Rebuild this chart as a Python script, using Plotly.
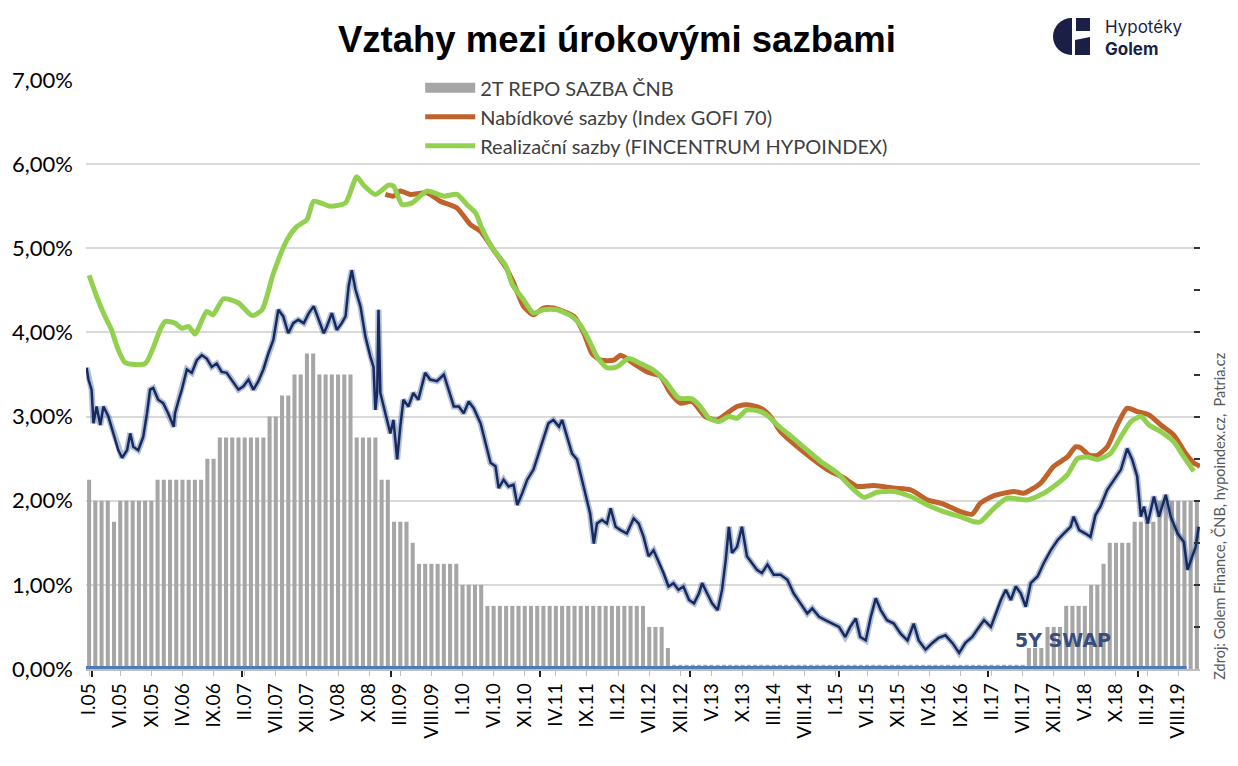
import plotly.graph_objects as go

# 2T repo sazba CNB, mesicne od I.2005 (index mesice 0 = I.05)
repo_sazba = [
    2.25, 2.0, 2.0, 2.0, 1.75, 2.0, 2.0, 2.0, 2.0, 2.0, 2.0, 2.25,
    2.25, 2.25, 2.25, 2.25, 2.25, 2.25, 2.25, 2.5, 2.5, 2.75, 2.75, 2.75,
    2.75, 2.75, 2.75, 2.75, 2.75, 3.0, 3.0, 3.25, 3.25, 3.5, 3.5, 3.75,
    3.75, 3.5, 3.5, 3.5, 3.5, 3.5, 3.5, 2.75, 2.75, 2.75, 2.75, 2.25,
    2.25, 1.75, 1.75, 1.75, 1.5, 1.25, 1.25, 1.25, 1.25, 1.25, 1.25, 1.25,
    1.0, 1.0, 1.0, 1.0, 0.75, 0.75, 0.75, 0.75, 0.75, 0.75, 0.75, 0.75,
    0.75, 0.75, 0.75, 0.75, 0.75, 0.75, 0.75, 0.75, 0.75, 0.75, 0.75, 0.75,
    0.75, 0.75, 0.75, 0.75, 0.75, 0.75, 0.5, 0.5, 0.5, 0.25, 0.05, 0.05,
    0.05, 0.05, 0.05, 0.05, 0.05, 0.05, 0.05, 0.05, 0.05, 0.05, 0.05, 0.05,
    0.05, 0.05, 0.05, 0.05, 0.05, 0.05, 0.05, 0.05, 0.05, 0.05, 0.05, 0.05,
    0.05, 0.05, 0.05, 0.05, 0.05, 0.05, 0.05, 0.05, 0.05, 0.05, 0.05, 0.05,
    0.05, 0.05, 0.05, 0.05, 0.05, 0.05, 0.05, 0.05, 0.05, 0.05, 0.05, 0.05,
    0.05, 0.05, 0.05, 0.05, 0.05, 0.05, 0.05, 0.25, 0.25, 0.25, 0.5, 0.5,
    0.5, 0.75, 0.75, 0.75, 0.75, 1.0, 1.0, 1.25, 1.5, 1.5, 1.5, 1.5,
    1.75, 1.75, 1.75, 1.75, 2.0, 2.0, 2.0, 2.0, 2.0, 2.0, 2.0,
]
mesice = list(range(len(repo_sazba)))

# Nabidkove sazby (Index GOFI 70)
gofi_mesic = [
    47.6, 48.9, 50.0, 51.6, 54.3, 56.4, 59.1, 61.3, 62.9, 65.0, 66.9, 68.2,
    69.8, 71.4, 73.0, 74.6, 77.9, 79.5, 80.8, 82.2, 84.3, 85.4, 87.5, 89.7,
    91.8, 93.4, 95.0, 96.9, 99.0, 100.9, 102.5, 104.1, 105.7, 107.9, 109.5,
    111.1, 114.8, 118.6, 121.3, 123.4, 126.1, 129.3, 132.0, 134.7, 137.3,
    140.0, 141.9, 143.2, 145.4, 148.6, 150.2, 152.9, 155.0, 157.2, 158.5,
    159.3, 160.7, 162.0, 163.6, 165.2, 166.8, 168.4, 170.3, 172.2, 174.3,
    176.2, 177.5, 178.5,
]
gofi = [
    5.64, 5.62, 5.68, 5.64, 5.66, 5.56, 5.48, 5.28, 5.20, 4.98, 4.78, 4.59,
    4.31, 4.21, 4.29, 4.29, 4.19, 3.99, 3.75, 3.67, 3.67, 3.73, 3.63, 3.53,
    3.48, 3.28, 3.16, 3.18, 3.00, 2.96, 3.04, 3.12, 3.14, 3.10, 3.00,
    2.82, 2.58, 2.37, 2.27, 2.17, 2.18, 2.15, 2.13, 2.01, 1.96,
    1.87, 1.84, 1.97, 2.06, 2.11, 2.09, 2.21, 2.41, 2.52, 2.64,
    2.63, 2.54, 2.54, 2.64, 2.90, 3.10, 3.06, 3.02, 2.90, 2.78,
    2.56, 2.45, 2.41,
]

# Realizacni sazby (FINCENTRUM HYPOINDEX)
hypoindex_mesic = [
    0.0, 1.2, 2.3, 3.6, 4.5, 5.8, 9.0, 11.4, 12.2, 13.8, 14.9, 16.0, 17.0,
    18.9, 19.9, 21.6, 24.0, 26.2, 27.8, 29.6, 31.8, 33.4, 35.0, 36.1, 38.7,
    41.2, 43.0, 44.1, 46.0, 48.1, 48.9, 50.3, 51.9, 54.3, 57.0, 59.1, 60.7,
    62.1, 63.1, 65.0, 66.9, 68.0, 69.8, 71.4, 73.0, 75.2, 77.6, 78.9, 80.3,
    81.6, 83.2, 84.8, 86.7, 88.6, 90.7, 92.6, 94.7, 96.9, 98.2, 99.6, 101.2,
    102.8, 104.1, 105.7, 107.9, 109.2, 110.6, 113.2, 115.4, 117.5, 120.2,
    122.3, 124.5, 126.6, 129.3, 132.0, 134.7, 137.3, 140.0, 142.2, 143.2,
    145.4, 147.5, 150.8, 152.9, 155.0, 157.2, 158.8, 160.4, 162.0, 164.1,
    165.8, 167.4, 169.0, 170.3, 172.2, 174.3, 175.9, 177.5,
]
hypoindex = [
    4.68, 4.43, 4.23, 4.03, 3.83, 3.64, 3.63, 4.03, 4.13, 4.11, 4.05, 4.07, 3.98,
    4.25, 4.21, 4.40, 4.35, 4.20, 4.27, 4.70, 5.10, 5.26, 5.34, 5.56, 5.50,
    5.54, 5.85, 5.75, 5.64, 5.75, 5.74, 5.52, 5.54, 5.68, 5.62, 5.64, 5.52,
    5.42, 5.24, 4.98, 4.80, 4.57, 4.39, 4.23, 4.27, 4.27, 4.19, 4.09, 3.91,
    3.71, 3.58, 3.59, 3.69, 3.63, 3.55, 3.42, 3.22, 3.21, 3.12, 2.98, 2.94,
    3.00, 2.98, 3.08, 3.06, 3.00, 2.90, 2.74, 2.60, 2.47, 2.33,
    2.17, 2.04, 2.10, 2.11, 2.05, 1.95, 1.87, 1.81, 1.75, 1.75,
    1.91, 2.03, 2.01, 2.07, 2.17, 2.31, 2.50, 2.52, 2.49, 2.56,
    2.76, 2.94, 3.00, 2.90, 2.82, 2.70, 2.52, 2.35,
]

# 5Y SWAP
swap_mesic = [
    -0.4, -0.1, 0.4, 0.7, 1.2, 1.8, 2.3, 3.1, 3.9, 4.7, 5.3, 6.1, 6.6, 7.1,
    7.9, 8.7, 9.3, 9.8, 10.3, 11.1, 11.9, 12.7, 13.6, 13.8, 14.4, 14.9, 15.7,
    16.5, 17.3, 18.1, 18.9, 19.7, 20.5, 21.3, 22.1, 22.9, 24.0, 24.8, 25.6,
    26.4, 27.2, 28.0, 28.8, 29.6, 30.4, 31.2, 32.0, 32.8, 33.6, 34.5, 35.3,
    36.1, 36.9, 37.7, 38.2, 39.0, 39.8, 40.6, 41.2, 41.7, 42.2, 42.8, 43.6,
    44.4, 45.2, 45.7, 46.0, 46.3, 46.5, 46.8, 47.6, 48.4, 48.9, 49.5, 50.0,
    50.5, 51.3, 52.1, 52.9, 54.0, 54.8, 55.9, 57.0, 57.8, 58.6, 59.4, 60.2,
    61.0, 61.8, 62.9, 63.9, 64.5, 65.3, 65.8, 66.6, 67.4, 68.2, 68.8, 69.6,
    70.4, 71.4, 72.2, 73.0, 73.8, 74.6, 75.5, 76.0, 76.8, 77.6, 78.4, 79.2,
    79.7, 80.5, 81.1, 81.6, 82.4, 83.2, 83.8, 84.6, 85.4, 86.4, 87.5, 88.3,
    89.1, 89.9, 90.7, 91.5, 92.3, 93.1, 93.9, 94.7, 95.5, 96.4, 97.2, 98.0,
    98.5, 99.3, 100.1, 101.0, 101.7, 102.3, 102.8, 103.3, 104.1, 104.9,
    105.7, 106.5, 107.3, 108.1, 109.0, 110.0, 111.1, 112.2, 113.2, 114.3,
    115.4, 116.2, 117.3, 118.3, 119.4, 120.5, 121.5, 122.3, 123.2, 123.9,
    124.8, 125.6, 126.4, 127.2, 128.2, 129.3, 130.4, 131.5, 132.5, 133.3,
    134.4, 135.5, 136.5, 137.6, 138.7, 139.8, 140.8, 141.9, 143.0, 143.8,
    144.9, 145.7, 146.5, 147.3, 148.1, 148.9, 149.7, 150.5, 151.3, 152.4,
    153.4, 154.5, 155.6, 156.6, 157.7, 158.2, 159.1, 160.1, 160.9, 161.7,
    162.5, 163.6, 164.7, 165.8, 166.8, 167.6, 168.4, 169.0, 169.5, 170.1,
    171.1, 171.9, 173.0, 173.8, 174.9, 175.9, 176.5, 177.3, 177.8, 178.3,
]
swap = [
    3.58, 3.44, 3.32, 2.92, 3.12, 2.90, 3.12, 3.00, 2.80, 2.60, 2.51, 2.60, 2.80, 2.64,
    2.60, 2.76, 3.04, 3.32, 3.34, 3.20, 3.16, 3.04, 2.88, 3.04, 3.20, 3.32, 3.56,
    3.52, 3.67, 3.73, 3.69, 3.59, 3.63, 3.53, 3.52, 3.44, 3.32, 3.36, 3.44,
    3.32, 3.42, 3.56, 3.75, 3.91, 4.27, 4.19, 3.99, 4.11, 4.15, 4.11, 4.23,
    4.31, 4.15, 3.99, 4.07, 4.23, 4.03, 4.11, 4.19, 4.55, 4.74, 4.51, 4.31,
    3.95, 3.71, 3.59, 3.08, 3.30, 4.27, 3.28, 3.04, 2.80, 2.96, 2.49, 2.88,
    3.20, 3.12, 3.28, 3.20, 3.52, 3.44, 3.42, 3.50, 3.32, 3.12, 3.12, 3.04,
    3.18, 3.10, 2.92, 2.64, 2.45, 2.41, 2.15, 2.25, 2.17, 2.19, 1.95, 2.09,
    2.25, 2.37, 2.56, 2.72, 2.92, 2.96, 2.88, 2.96, 2.76, 2.56, 2.49, 2.25,
    2.09, 1.85, 1.49, 1.73, 1.77, 1.73, 1.91, 1.69, 1.65, 1.61, 1.79, 1.73,
    1.57, 1.34, 1.41, 1.28, 1.14, 0.98, 1.02, 0.94, 0.98, 0.82, 0.78, 0.90,
    1.02, 0.90, 0.78, 0.70, 0.94, 1.30, 1.69, 1.38, 1.45, 1.69,
    1.34, 1.26, 1.18, 1.14, 1.24, 1.12, 1.12, 1.06, 0.90, 0.78,
    0.66, 0.72, 0.62, 0.58, 0.54, 0.50, 0.38, 0.50, 0.60, 0.38,
    0.34, 0.62, 0.84, 0.70, 0.58, 0.54, 0.42, 0.34, 0.54, 0.34,
    0.23, 0.31, 0.37, 0.40, 0.31, 0.19, 0.31, 0.38, 0.50, 0.58,
    0.50, 0.66, 0.82, 0.94, 0.82, 0.98, 0.90, 0.74, 1.02, 1.10,
    1.26, 1.41, 1.53, 1.61, 1.69, 1.81, 1.65, 1.61, 1.57, 1.83,
    1.93, 2.13, 2.25, 2.37, 2.62, 2.49, 2.29, 1.81, 1.93, 1.73,
    2.05, 1.81, 2.07, 1.81, 1.61, 1.51, 1.18, 1.34, 1.45, 1.69,
]

popisky = [
    'I.05', 'VI.05', 'XI.05', 'IV.06', 'IX.06', 'II.07', 'VII.07', 'XII.07',
    'V.08', 'X.08', 'III.09', 'VIII.09', 'I.10', 'VI.10', 'XI.10', 'IV.11',
    'IX.11', 'II.12', 'VII.12', 'XII.12', 'V.13', 'X.13', 'III.14', 'VIII.14',
    'I.15', 'VI.15', 'XI.15', 'IV.16', 'IX.16', 'II.17', 'VII.17', 'XII.17',
    'V.18', 'X.18', 'III.19', 'VIII.19',
]
popisky_mesic = list(range(0, 5 * len(popisky), 5))

NAVY = '#172a5e'
GRAY_BAR = '#a6a6a6'
FONT = 'Lato, "Open Sans", sans-serif'

data = []

trace_repo = go.Bar(
    x=mesice, y=repo_sazba,
    name='2T REPO SAZBA ČNB', showlegend=False,
    marker=dict(color=GRAY_BAR, line=dict(width=0)),
)
data.append(trace_repo)

# polozka legendy pro sloupce (siroky sedy obdelnik jako v Excelu)
trace_repo_legend = go.Scatter(
    x=[None], y=[None], mode='lines', name='2T REPO SAZBA ČNB',
    line=dict(color=GRAY_BAR, width=10), hoverinfo='skip',
)
data.append(trace_repo_legend)

# 5Y swap - rozmazany okraj + tmava linka
trace_swap_halo = go.Scatter(
    x=swap_mesic, y=swap, mode='lines',
    line=dict(color='rgba(80,110,170,0.45)', width=6),
    showlegend=False, hoverinfo='skip',
)
data.append(trace_swap_halo)

trace_swap = go.Scatter(
    x=swap_mesic, y=swap, mode='lines', name='5Y SWAP',
    line=dict(color=NAVY, width=2.5),
    showlegend=False,
)
data.append(trace_swap)

trace_gofi = go.Scatter(
    x=gofi_mesic, y=gofi, mode='lines',
    name='Nabídkové sazby (Index GOFI 70)',
    line=dict(color='#c0622b', width=5, shape='spline', smoothing=0.6),
)
data.append(trace_gofi)

trace_hypo = go.Scatter(
    x=hypoindex_mesic, y=hypoindex, mode='lines',
    name='Realizační sazby (FINCENTRUM HYPOINDEX)',
    line=dict(color='#92d050', width=5, shape='spline', smoothing=0.6),
)
data.append(trace_hypo)

# logo Hypoteky Golem (kotva v pravem hornim rohu grafu, souradnice v pixelech)
logo = dict(xref='paper', yref='paper', xsizemode='pixel', ysizemode='pixel',
            xanchor=1.0, yanchor=1.0, layer='above', line=dict(width=0))
shapes = [
    dict(type='circle', x0=-147, x1=-110, y0=25, y1=62, fillcolor='#1b1f45', **logo),
    dict(type='rect', x0=-128, x1=-108, y0=23, y1=64, fillcolor='white', **logo),
    dict(type='rect', x0=-124, x1=-110, y0=49, y1=62, fillcolor='#1b1f45', **logo),
    dict(type='path', path='M -125,25 L -110,25 L -110,43 L -125,40 Z',
         fillcolor='#1b1f45', **logo),
    # modra linie na nule (konci pred koncem osy)
    dict(type='line', xref='paper', yref='y', x0=0, x1=0.988, y0=0, y1=0,
         layer='above', line=dict(color='#4f7ab3', width=6)),
]

annotations = [
    dict(text='Vztahy mezi úrokovými sazbami', xref='paper', yref='paper',
         x=0.477, y=1.0, yshift=41, xanchor='center', yanchor='middle', showarrow=False,
         font=dict(family='"Liberation Sans", Arial', size=36.5,
                   color='black', weight='bold')),
    dict(text='Hypotéky<br><b>Golem</b>', xref='paper', yref='paper', x=0.913, y=1.0,
         yshift=42, xanchor='left', yanchor='middle', align='left', showarrow=False,
         font=dict(family='Inter, sans-serif', size=17, color='#1b1f45')),
    dict(text='Zdroj: Golem Finance, ČNB, hypoindex.cz,  Patria.cz', xref='paper',
         yref='paper', x=1.0, xshift=19, y=0.26, textangle=-90, showarrow=False,
         xanchor='center', yanchor='middle',
         font=dict(family=FONT, size=14.5, color='#595959')),
    dict(text='<b>5Y SWAP</b>', xref='x', yref='y', x=156.5, y=0.35, showarrow=False,
         font=dict(family='DejaVu Sans, sans-serif', size=19, color='#3a4b7e')),
]

layout = go.Layout(
    # stranka ma okraj 8 px, proto je obrazek o 8 px mensi
    width=1230, height=758,
    margin=dict(l=78, r=38, t=72, b=97),
    paper_bgcolor='white', plot_bgcolor='white',
    separators=', ',
    bargap=0.35,
    showlegend=True,
    legend=dict(x=0.3, y=1.02, xanchor='left', yanchor='top',
                bgcolor='rgba(0,0,0,0)', tracegroupgap=0, itemwidth=50,
                font=dict(family=FONT, size=20, color='#404040')),
    xaxis=dict(range=[-0.5, 178.5], tickmode='array', tickvals=popisky_mesic,
               ticktext=popisky, tickangle=-90, ticks='outside', ticklen=5,
               tickcolor='#bfbfbf', tickwidth=1, automargin=False,
               tickfont=dict(family=FONT, size=19, color='black'),
               showgrid=False, zeroline=False, showline=True,
               linecolor='#bfbfbf', linewidth=1.5,
               minor=dict(ticks='outside', tick0=0.5, dtick=24, ticklen=6,
                          tickcolor='#222222', tickwidth=2)),
    yaxis=dict(range=[0, 7], dtick=1, tickformat='.2f', ticksuffix='%',
               tickfont=dict(family=FONT, size=22, color='black'),
               ticklabelstandoff=12, automargin=False,
               showgrid=True, gridcolor='#d9d9d9', gridwidth=1.5,
               zeroline=False, showline=False, ticks=''),
    yaxis2=dict(range=[0, 7], overlaying='y', side='right', tickmode='array',
                tickvals=[0.5, 1.0, 1.5, 2.0, 2.5, 3.0, 3.5, 4.0, 4.5, 5.0],
                showticklabels=False, ticks='inside', ticklen=6, tickwidth=2,
                tickcolor='#333333', showgrid=False, zeroline=False,
                showline=False, automargin=False),
    shapes=shapes,
    annotations=annotations,
)

fig = go.Figure(data=data, layout=layout)
# prazdna stopa pro pravou osu, aby se zobrazila
fig.add_trace(go.Scatter(x=[None], y=[None], yaxis='y2', showlegend=False,
                         hoverinfo='skip'))
fig.write_html("out.html")
